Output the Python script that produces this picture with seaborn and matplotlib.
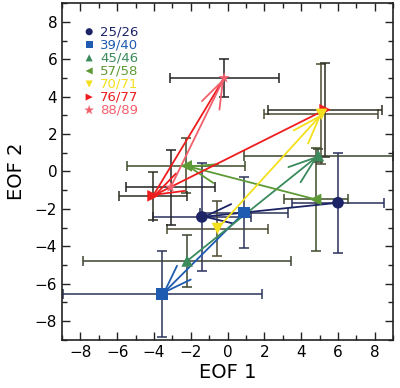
import numpy as np
import pandas as pd
import matplotlib
matplotlib.use('Agg')
import matplotlib.pyplot as plt
import seaborn as sns
from matplotlib.ticker import MultipleLocator

# winters, first point (arrow tail) and second point (arrow head)
labels = ['25/26', '39/40', '45/46', '57/58', '70/71', '76/77', '88/89']
tail_x = [6.0, 0.89, -2.2, 4.78, -0.55, 5.3, -3.1]
tail_y = [-1.67, -2.2, -4.78, -1.49, -3.05, 3.3, -0.85]
tail_xerr = [2.5, 2.4, 5.64, 1.74, 2.72, 3.1, 2.42]
tail_yerr = [2.67, 1.9, 1.37, 2.77, 1.47, 2.5, 2.0]
head_x = [-1.4, -3.55, 4.93, -2.25, 5.1, -4.05, -0.19]
head_y = [-2.43, -6.56, 0.85, 0.3, 3.05, -1.3, 5.0]
head_xerr = [2.65, 5.4, 4.04, 3.2, 3.1, 1.84, 2.96]
head_yerr = [2.9, 2.3, 0.36, 1.47, 2.67, 1.29, 1.0]

# extra red segment between the 88/89 and 76/77 second points
link_from = '88/89'
link_to = '76/77'

colors = ['#1c2466', '#1f5bb0', '#3a8a5c', '#5d9a35', '#f4df1c', '#ee1c1c', '#f2606e']
err_colors = ['#2a2f5c', '#2a3458', '#3a4430', '#3d4a2a', '#4a4a30', '#2e2e22', '#222222']
markers = ['o', 's', '^', '<', 'v', '>', '*']

df = pd.DataFrame({
    'EOF1': tail_x + head_x,
    'EOF2': tail_y + head_y,
    'winter': labels + labels,
})

plt.rcParams['font.family'] = ['DejaVu Sans']
fig, ax = plt.subplots(figsize=(4.0, 3.88), dpi=100)
fig.subplots_adjust(left=0.155, right=0.983, bottom=0.124, top=0.992)

# error bars
for i in range(len(labels)):
    ax.errorbar([tail_x[i], head_x[i]], [tail_y[i], head_y[i]],
                xerr=[tail_xerr[i], head_xerr[i]], yerr=[tail_yerr[i], head_yerr[i]],
                fmt='none', ecolor=err_colors[i], elinewidth=1.1, capsize=3.5,
                capthick=1.1, zorder=1)

# link line
a, b = labels.index(link_from), labels.index(link_to)
ax.plot([head_x[a], head_x[b]], [head_y[a], head_y[b]], color=colors[b], lw=1.3, zorder=2)

# arrows
for i in range(len(labels)):
    ax.annotate('', xy=(head_x[i], head_y[i]), xytext=(tail_x[i], tail_y[i]),
                arrowprops=dict(arrowstyle='->,head_length=2.0,head_width=0.7',
                                color=colors[i], lw=1.3, shrinkA=0, shrinkB=0,
                                mutation_scale=10),
                zorder=2)

sns.scatterplot(data=df, x='EOF1', y='EOF2', hue='winter', style='winter',
                palette=colors, markers=dict(zip(labels, markers)),
                hue_order=labels, style_order=labels,
                s=70, edgecolor='none', ax=ax, zorder=3, legend=False)

# legend: marker + coloured text
for i, lab in enumerate(labels):
    yy = 0.915 - i * 0.0388
    ax.scatter([0.082], [yy], transform=ax.transAxes, marker=markers[i],
               color=colors[i], s=26 if markers[i] != '*' else 55, edgecolor='none', zorder=4)
    ax.text(0.115, yy, lab, transform=ax.transAxes, color=colors[i],
            fontsize=9.5, va='center', ha='left')

ax.set_xlim(-9, 9)
ax.set_ylim(-9, 9)
ax.xaxis.set_major_locator(MultipleLocator(2))
ax.xaxis.set_minor_locator(MultipleLocator(1))
ax.yaxis.set_major_locator(MultipleLocator(2))
ax.yaxis.set_minor_locator(MultipleLocator(1))
ax.tick_params(which='both', direction='in', top=True, right=True, labelsize=11, color='#222222')
ax.tick_params(which='major', length=6, width=1.0)
ax.tick_params(which='minor', length=3.5, width=1.0)
for sp in ax.spines.values():
    sp.set_linewidth(1.2)
    sp.set_color('#222222')

ax.set_xlabel('EOF 1', fontsize=14, labelpad=2)
ax.set_ylabel('EOF 2', fontsize=14, labelpad=6)

fig.savefig('out.png', dpi=100)
